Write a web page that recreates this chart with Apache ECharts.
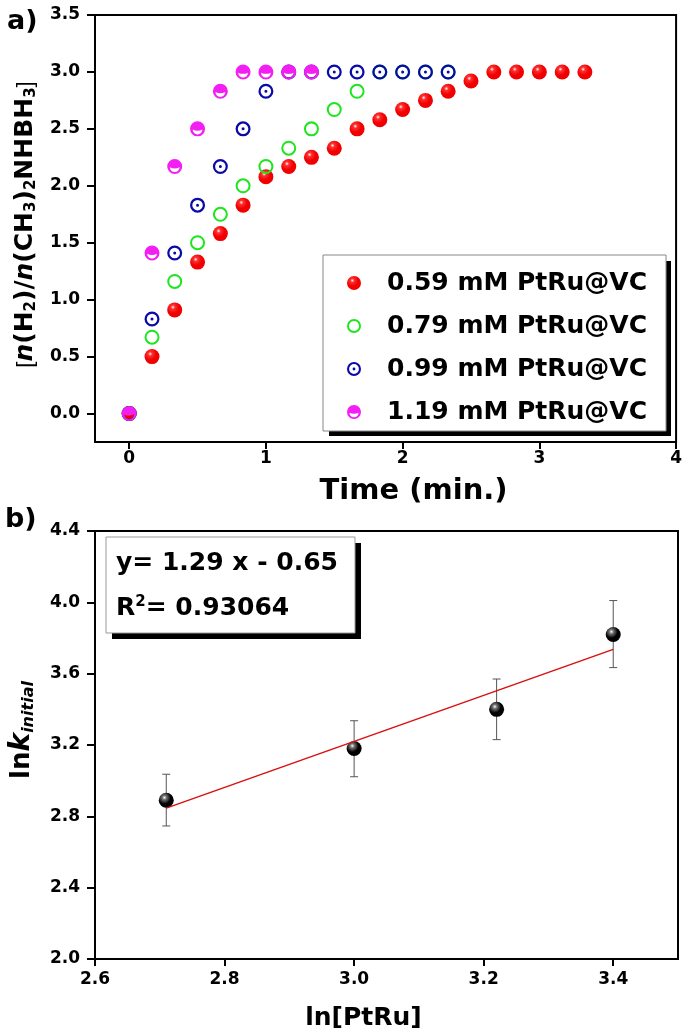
<!DOCTYPE html>
<html>
<head>
<meta charset="UTF-8">
<title></title>
<script src="https://cdn.jsdelivr.net/npm/echarts@6/dist/echarts.min.js"></script>
<style>
	html, body { margin: 0; padding: 0; background: #fff; }
	#main { width: 685px; height: 1035px; }
</style>
</head>
<body>
<div id="main"></div>
<script>
// a) hydrogen evolution vs time, 10 s steps
var timeMin = [0, 0.167, 0.333, 0.5, 0.667, 0.833, 1, 1.167, 1.333, 1.5, 1.667, 1.833, 2, 2.167, 2.333, 2.5, 2.667, 2.833, 3, 3.167, 3.333];
var c059 = [0, 0.5, 0.91, 1.33, 1.58, 1.83, 2.08, 2.17, 2.25, 2.33, 2.5, 2.58, 2.67, 2.75, 2.83, 2.92, 3, 3, 3, 3, 3];
var c079 = [0, 0.67, 1.16, 1.5, 1.75, 2.0, 2.17, 2.33, 2.5, 2.67, 2.83, 3, 3, 3, 3];
var c099 = [0, 0.83, 1.41, 1.83, 2.17, 2.5, 2.83, 3, 3, 3, 3, 3, 3, 3, 3];
var c119 = [0, 1.41, 2.17, 2.5, 2.83, 3, 3, 3, 3];
var seriesNames = ['0.59 mM PtRu@VC', '0.79 mM PtRu@VC', '0.99 mM PtRu@VC', '1.19 mM PtRu@VC'];
var topXTicks = [0, 1, 2, 3, 4];
var topYTicks = [0, 0.5, 1, 1.5, 2, 2.5, 3, 3.5];

// b) ln k vs ln[PtRu]
var lnPtRu = [2.71, 3.0, 3.22, 3.4];
var lnK = [2.89, 3.18, 3.40, 3.82];
var errLow = [2.746, 3.022, 3.23, 3.634];
var errHigh = [3.036, 3.336, 3.57, 4.01];
var fitX = [2.71, 3.4];
var fitY = [2.846, 3.736];
var botXTicks = [2.6, 2.8, 3.0, 3.2, 3.4];
var botYTicks = [2.0, 2.4, 2.8, 3.2, 3.6, 4.0, 4.4];

var FONT = 'DejaVu Sans';

function pairs(xs, ys) {
	var out = [];
	for (var i = 0; i < ys.length; i++) out.push([xs[i], ys[i]]);
	return out;
}

var ringPath = 'path://M0,10A10,10,0,1,1,20,10A10,10,0,1,1,0,10ZM2.7,10A7.3,7.3,0,1,0,17.3,10A7.3,7.3,0,1,0,2.7,10Z';
var dotRingPath = 'path://M0,10A10,10,0,1,1,20,10A10,10,0,1,1,0,10ZM3,10A7,7,0,1,0,17,10A7,7,0,1,0,3,10ZM8,10A2,2,0,1,1,12,10A2,2,0,1,1,8,10Z';
var smilePath = 'path://M0,10A10,10,0,1,1,20,10A10,10,0,1,1,0,10ZM3.5,11A6.5,6.5,0,0,0,16.5,11A14.83,14.83,0,0,1,3.5,11Z';

function sphere(mid, dark) {
	return {
		type: 'radial', x: 0.38, y: 0.32, r: 0.75,
		colorStops: [
			{ offset: 0, color: '#ffffff' },
			{ offset: 0.18, color: mid },
			{ offset: 0.55, color: dark },
			{ offset: 1, color: dark }
		]
	};
}

var tickLabel = { fontSize: 17, fontWeight: 'bold', color: '#000', fontFamily: FONT };
var axisLine = { show: true, onZero: false, lineStyle: { color: '#000', width: 2 } };
var tickLine = { color: '#000', width: 2 };

var myChart = echarts.init(document.getElementById('main'));
var option = {
	animation: false,
	backgroundColor: '#fff',
	grid: [
		{ left: 95, top: 15, width: 582, height: 427, show: true, borderColor: '#000', borderWidth: 2 },
		{ left: 95, top: 531, width: 583, height: 428, show: true, borderColor: '#000', borderWidth: 2 }
	],
	legend: {
		orient: 'vertical',
		left: 323,
		top: 255,
		padding: [13, 19, 4, 24],
		itemGap: 13,
		itemWidth: 56,
		itemHeight: 14,
		backgroundColor: '#fff',
		borderColor: '#888',
		borderWidth: 1,
		borderRadius: 0,
		textStyle: { fontSize: 25, fontWeight: 'bold', fontFamily: FONT, color: '#000', lineHeight: 30 },
		data: seriesNames
	},
	xAxis: [{
		type: 'value', gridIndex: 0, min: -0.25, max: 4,
		axisLine: axisLine,
		axisTick: { length: 7, lineStyle: tickLine, customValues: topXTicks },
		axisLabel: Object.assign({ margin: 8, customValues: topXTicks, formatter: function(v) { return v.toFixed(0); } }, tickLabel),
		splitLine: { show: false },
		name: 'Time (min.)', nameLocation: 'middle', nameGap: 35,
		nameTextStyle: { fontSize: 29, fontWeight: 'bold', fontFamily: FONT, color: '#000', padding: [0, 0, 0, 56] }
	}, {
		type: 'value', gridIndex: 1, min: 2.6, max: 3.5,
		axisLine: axisLine,
		axisTick: { length: 7, lineStyle: tickLine, customValues: botXTicks },
		axisLabel: Object.assign({ margin: 12, customValues: botXTicks, formatter: function(v) { return v.toFixed(1); } }, tickLabel),
		splitLine: { show: false },
		name: 'ln[PtRu]', nameLocation: 'middle', nameGap: 47,
		nameTextStyle: { fontSize: 25, fontWeight: 'bold', fontFamily: FONT, color: '#000', padding: [0, 46, 0, 0] }
	}],
	yAxis: [{
		type: 'value', gridIndex: 0, min: -0.25, max: 3.5,
		axisLine: axisLine,
		axisTick: { length: 8, lineStyle: tickLine, customValues: topYTicks },
		axisLabel: Object.assign({ margin: 15, customValues: topYTicks, formatter: function(v) { return v.toFixed(1); } }, tickLabel),
		splitLine: { show: false },
		name: '{br|[}{it|n}{b|(H}{sub|2}{b|)/}{it|n}{b|(CH}{sub|3}{b|)}{sub|2}{b|NHBH}{sub|3}{br|]}',
		nameLocation: 'middle', nameGap: 44, nameRotate: 90,
		nameTextStyle: {
			color: '#000',
			padding: [0, 0, 0, 8],
			rich: {
				b: { fontSize: 25, fontWeight: 'bold', fontFamily: FONT, color: '#000' },
				it: { fontSize: 25, fontWeight: 'bold', fontStyle: 'italic', fontFamily: FONT, color: '#000' },
				br: { fontSize: 22, fontWeight: 'normal', fontFamily: 'Liberation Sans', color: '#000' },
				sub: { fontSize: 15, fontWeight: 'bold', fontFamily: FONT, color: '#000', padding: [12, 0, 0, 0] }
			}
		}
	}, {
		type: 'value', gridIndex: 1, min: 2.0, max: 4.4, interval: 0.4,
		axisLine: axisLine,
		axisTick: { length: 8, lineStyle: tickLine, customValues: botYTicks },
		axisLabel: Object.assign({ margin: 15, customValues: botYTicks, formatter: function(v) { return v.toFixed(1); } }, tickLabel),
		splitLine: { show: false },
		name: '{b|ln}{k|k}{sub|initial}',
		nameLocation: 'middle', nameGap: 58, nameRotate: 90,
		nameTextStyle: {
			color: '#000',
			padding: [0, 0, 0, 30],
			rich: {
				b: { fontSize: 26, fontWeight: 'bold', fontFamily: FONT, color: '#000' },
				k: { fontSize: 28, fontWeight: 'bold', fontStyle: 'italic', fontFamily: FONT, color: '#000' },
				sub: { fontSize: 16, fontWeight: 'bold', fontStyle: 'italic', fontFamily: FONT, color: '#000', padding: [14, 0, 0, 0] }
			}
		}
	}],
	series: [{
		name: seriesNames[0], type: 'scatter', xAxisIndex: 0, yAxisIndex: 0,
		symbol: 'circle', symbolSize: 15,
		itemStyle: { color: sphere('#ff3030', '#f00000'), opacity: 1 },
		data: pairs(timeMin, c059)
	}, {
		name: seriesNames[1], type: 'scatter', xAxisIndex: 0, yAxisIndex: 0,
		symbol: ringPath, symbolSize: 15,
		itemStyle: { color: '#1ee61e', opacity: 1 },
		data: pairs(timeMin, c079)
	}, {
		name: seriesNames[2], type: 'scatter', xAxisIndex: 0, yAxisIndex: 0,
		symbol: dotRingPath, symbolSize: 15,
		itemStyle: { color: '#0a0aa8', opacity: 1 },
		data: pairs(timeMin, c099)
	}, {
		name: seriesNames[3], type: 'scatter', xAxisIndex: 0, yAxisIndex: 0,
		symbol: smilePath, symbolSize: 15,
		itemStyle: { color: '#f21ef2', opacity: 1 },
		data: pairs(timeMin, c119)
	}, {
		name: 'err', type: 'custom', xAxisIndex: 1, yAxisIndex: 1, silent: true,
		data: lnPtRu.map(function(x, i) { return [x, errLow[i], errHigh[i]]; }),
		encode: { x: 0, y: [1, 2] },
		renderItem: function(params, api) {
			var x = api.value(0);
			var lo = api.coord([x, api.value(1)]);
			var hi = api.coord([x, api.value(2)]);
			var st = { stroke: '#555', lineWidth: 1 };
			return {
				type: 'group',
				children: [
					{ type: 'line', shape: { x1: lo[0], y1: lo[1], x2: hi[0], y2: hi[1] }, style: st },
					{ type: 'line', shape: { x1: lo[0] - 4, y1: lo[1], x2: lo[0] + 4, y2: lo[1] }, style: st },
					{ type: 'line', shape: { x1: hi[0] - 4, y1: hi[1], x2: hi[0] + 4, y2: hi[1] }, style: st }
				]
			};
		}
	}, {
		name: 'fit', type: 'line', xAxisIndex: 1, yAxisIndex: 1, silent: true,
		symbol: 'none',
		lineStyle: { color: '#d81010', width: 1.5 },
		data: pairs(fitX, fitY)
	}, {
		name: 'lnk', type: 'scatter', xAxisIndex: 1, yAxisIndex: 1,
		symbol: 'circle', symbolSize: 15,
		itemStyle: { color: sphere('#777', '#000'), opacity: 1 },
		data: pairs(lnPtRu, lnK)
	}],
	graphic: [
		{ type: 'text', left: 7, top: 8, style: { text: 'a)', fontSize: 27, fontWeight: 'bold', fontFamily: FONT, fill: '#000' } },
		{ type: 'text', left: 5, top: 506, style: { text: 'b)', fontSize: 27, fontWeight: 'bold', fontFamily: FONT, fill: '#000' } },
		// legend drop shadow
		{ type: 'rect', z: 1, shape: { x: 329, y: 261, width: 342, height: 175 }, style: { fill: '#000' } },
		// equation box
		{ type: 'rect', shape: { x: 112, y: 543, width: 249, height: 96 }, style: { fill: '#000' } },
		{ type: 'rect', shape: { x: 106, y: 537, width: 249, height: 96 }, style: { fill: '#fff', stroke: '#999', lineWidth: 1 } },
		{ type: 'text', x: 116, y: 563, style: { text: 'y= 1.29 x - 0.65', fontSize: 25, fontWeight: 'bold', fontFamily: FONT, fill: '#000', verticalAlign: 'middle' } },
		{
			type: 'text', x: 116, y: 608,
			style: {
				text: '{b|R}{sup|2}{b|= 0.93064}',
				verticalAlign: 'middle',
				rich: {
					b: { fontSize: 25, fontWeight: 'bold', fontFamily: FONT, fill: '#000' },
					sup: { fontSize: 15, fontWeight: 'bold', fontFamily: FONT, fill: '#000', padding: [0, 0, 12, 0] }
				}
			}
		}
	]
};
myChart.setOption(option);
</script>
</body>
</html>
